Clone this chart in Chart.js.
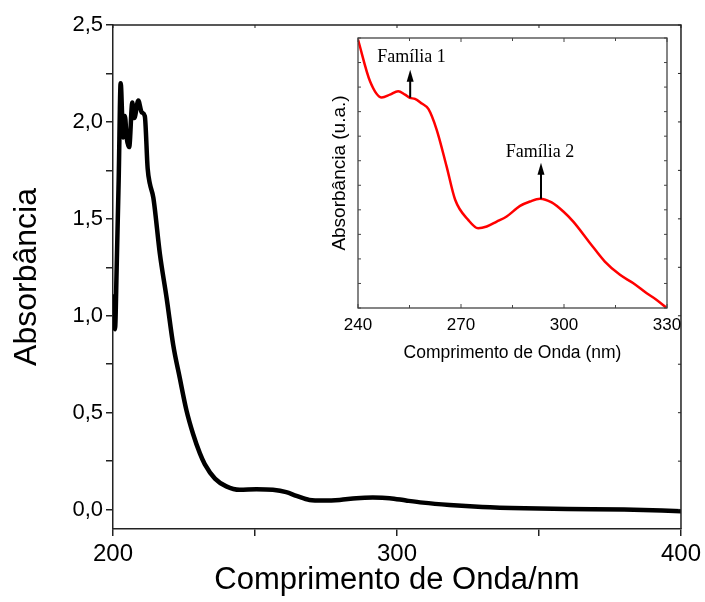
<!DOCTYPE html>
<html lang="pt-BR">
<head>
<meta charset="UTF-8">
<title>Absorbância - Comprimento de Onda</title>
<script src="https://cdn.jsdelivr.net/npm/chart.js@4.4.0/dist/chart.umd.min.js"></script>
<style>
    body { margin: 0; background: #fff; }
    #wrap { position: relative; width: 705px; height: 602px; }
    #principal { position: absolute; left: 0; top: 0; }
    #inset { position: absolute; left: 320px; top: 30px; }
</style>
</head>
<body>
<div id="wrap">
    <canvas id="principal" width="705" height="602"></canvas>
    <canvas id="inset" width="370" height="345"></canvas>
</div>
<script>
// espectro completo (nm, absorbância)
const comprimentoOnda = [200.3, 200.7, 201.3, 202.0, 202.7, 203.6, 204.2, 204.8, 205.7, 206.8, 207.5, 208.9,
    210.1, 211.2, 212.2, 213.0, 214.2, 216.5, 218.9, 221.2, 223.5, 225.9, 228.2, 230.6, 232.3, 235.9, 239.9,
    244.6, 250.5, 256.3, 261.0, 264.6, 269.2, 273.9, 279.8, 285.7, 291.5, 297.4, 303.2, 309.1, 318.5, 330,
    345, 360, 380, 400];
const absorbancia = [1.10, 0.93, 1.25, 1.70, 2.20, 1.92, 2.03, 1.92, 1.87, 2.10, 2.02, 2.11,
    2.05, 2.03, 1.76, 1.68, 1.61, 1.32, 1.09, 0.85, 0.68, 0.51, 0.39, 0.29, 0.235, 0.16, 0.12,
    0.102, 0.105, 0.102, 0.090, 0.071, 0.050, 0.047, 0.050, 0.059, 0.062, 0.059, 0.047, 0.036, 0.024, 0.014,
    0.007, 0.003, 0.0, -0.008];

// detalhe 240-330 nm (u.a.)
const insetOnda = [240.0, 243.5, 246.9, 249.3, 251.7, 253.7, 255.1, 256.6, 258.6, 260.5, 262.9, 265.8,
    268.3, 272.1, 275.0, 277.5, 280.4, 283.3, 287.2, 290.1, 293.0, 296.4, 299.8, 302.7, 307.6, 311.9,
    316.3, 320.2, 324.1, 327.0, 329.9];
const insetAbs = [10.94, 9.24, 8.58, 8.69, 8.83, 8.69, 8.56, 8.52, 8.33, 8.11, 7.27, 5.77,
    4.41, 3.59, 3.25, 3.32, 3.52, 3.73, 4.16, 4.34, 4.45, 4.30, 3.93, 3.52, 2.64, 1.89,
    1.35, 1.01, 0.60, 0.33, 0.0];

// marcações das famílias no inset
const familias = ['Família 1', 'Família 2'];
const familiaOnda = [255.2, 293.3];
const familiaTextoOnda = [255.6, 293.0];
const setaBase = [8.57, 4.45];
const setaTopo = [9.71, 5.92];
const textoAltura = [10.2, 6.33];

const SANS = "'Liberation Sans', Arial, sans-serif";
const SERIF = "'Liberation Serif', 'Times New Roman', serif";

function rotuloVirgula(v) {
    const r = Math.round(v * 100) / 100;
    return Math.abs(r * 2 - Math.round(r * 2)) < 1e-6 ? Math.abs(r).toFixed(1).replace('.', ',') : '';
}

// moldura superior/direita com ticks internos
const molduraPrincipal = {
    id: 'molduraPrincipal',
    afterDraw(chart) {
        const { ctx, chartArea: a, scales: { x, y } } = chart;
        ctx.save();
        ctx.strokeStyle = '#222';
        ctx.lineWidth = 1.5;
        ctx.beginPath();
        ctx.moveTo(a.left - 0.75, a.top);
        ctx.lineTo(a.right, a.top);
        ctx.lineTo(a.right, a.bottom);
        ctx.stroke();
        ctx.lineWidth = 1;
        x.ticks.forEach(t => {
            const px = x.getPixelForValue(t.value);
            ctx.beginPath(); ctx.moveTo(px, a.top); ctx.lineTo(px, a.top + 3); ctx.stroke();
        });
        y.ticks.forEach(t => {
            const py = y.getPixelForValue(t.value);
            ctx.beginPath(); ctx.moveTo(a.right, py); ctx.lineTo(a.right - 3, py); ctx.stroke();
        });
        ctx.restore();
    }
};

const molduraInset = {
    id: 'molduraInset',
    afterDatasetsDraw(chart) {
        const { ctx, chartArea: a, scales: { x, y } } = chart;
        ctx.save();
        ctx.strokeStyle = '#444';
        ctx.lineWidth = 1.3;
        ctx.strokeRect(a.left, a.top, a.right - a.left, a.bottom - a.top);
        ctx.lineWidth = 1;
        x.ticks.forEach(t => {
            const px = x.getPixelForValue(t.value);
            const len = t.value % 30 === 0 ? 4 : 3;
            ctx.beginPath(); ctx.moveTo(px, a.bottom); ctx.lineTo(px, a.bottom - len); ctx.stroke();
            ctx.beginPath(); ctx.moveTo(px, a.top); ctx.lineTo(px, a.top + len); ctx.stroke();
        });
        y.ticks.forEach(t => {
            const py = y.getPixelForValue(t.value);
            ctx.beginPath(); ctx.moveTo(a.left, py); ctx.lineTo(a.left + 3, py); ctx.stroke();
            ctx.beginPath(); ctx.moveTo(a.right, py); ctx.lineTo(a.right - 3, py); ctx.stroke();
        });

        // setas e rótulos
        ctx.strokeStyle = '#000';
        ctx.fillStyle = '#000';
        ctx.lineWidth = 2;
        ctx.font = '18px ' + SERIF;
        ctx.textAlign = 'center';
        ctx.textBaseline = 'middle';
        familias.forEach((nome, i) => {
            const px = x.getPixelForValue(familiaOnda[i]);
            const yb = y.getPixelForValue(setaBase[i]);
            const yt = y.getPixelForValue(setaTopo[i]);
            ctx.beginPath(); ctx.moveTo(px, yb); ctx.lineTo(px, yt + 8); ctx.stroke();
            ctx.beginPath();
            ctx.moveTo(px, yt);
            ctx.lineTo(px - 3.5, yt + 12);
            ctx.lineTo(px + 3.5, yt + 12);
            ctx.closePath();
            ctx.fill();
            ctx.fillText(nome, x.getPixelForValue(familiaTextoOnda[i]), y.getPixelForValue(textoAltura[i]));
        });
        ctx.restore();
    }
};

new Chart(document.getElementById('principal'), {
    type: 'line',
    data: {
        datasets: [{
            data: comprimentoOnda.map((c, i) => ({ x: c, y: absorbancia[i] })),
            borderColor: '#000',
            borderWidth: 4.5,
            borderJoinStyle: 'round',
            borderCapStyle: 'round',
            cubicInterpolationMode: 'monotone',
            pointRadius: 0,
            fill: false
        }]
    },
    options: {
        responsive: false,
        animation: false,
        devicePixelRatio: 1,
        layout: { padding: { top: 25, right: 23, left: 0, bottom: 0 } },
        plugins: { legend: { display: false }, tooltip: { enabled: false } },
        scales: {
            x: {
                type: 'linear',
                min: 200,
                max: 400,
                ticks: {
                    stepSize: 50,
                    autoSkip: false,
                    maxRotation: 0,
                    color: '#000',
                    padding: 4,
                    font: { family: SANS, size: 24 },
                    callback: v => (v % 100 === 0 ? v : '')
                },
                grid: { drawOnChartArea: false, tickLength: 7, color: '#222', lineWidth: 1.5 },
                border: { color: '#222', width: 1.5 },
                title: {
                    display: true,
                    text: 'Comprimento de Onda/nm',
                    color: '#000',
                    font: { family: SANS, size: 31 },
                    padding: { top: 0, bottom: 3 }
                },
                afterFit: s => { s.height = 73; }
            },
            y: {
                min: -0.1,
                max: 2.5,
                afterBuildTicks: s => {
                    s.ticks = s.ticks.filter(t => Math.abs(t.value * 4 - Math.round(t.value * 4)) < 1e-6);
                },
                ticks: {
                    stepSize: 0.25,
                    includeBounds: false,
                    autoSkip: false,
                    color: '#000',
                    padding: 3,
                    font: { family: SANS, size: 22 },
                    callback: rotuloVirgula
                },
                grid: { drawOnChartArea: false, tickLength: 7, color: '#222', lineWidth: 1.5 },
                border: { color: '#222', width: 1.5 },
                title: {
                    display: true,
                    text: 'Absorbância',
                    color: '#000',
                    font: { family: SANS, size: 32 },
                    padding: { top: 8, bottom: 0 }
                },
                afterFit: s => { s.width = 113; }
            }
        }
    },
    plugins: [molduraPrincipal]
});

new Chart(document.getElementById('inset'), {
    type: 'line',
    data: {
        datasets: [{
            data: insetOnda.map((c, i) => ({ x: c, y: insetAbs[i] })),
            borderColor: '#ff0000',
            borderWidth: 2.5,
            cubicInterpolationMode: 'monotone',
            pointRadius: 0,
            fill: false
        }]
    },
    options: {
        responsive: false,
        animation: false,
        devicePixelRatio: 1,
        layout: { padding: { top: 8, right: 23, left: 0, bottom: 0 } },
        plugins: { legend: { display: false }, tooltip: { enabled: false } },
        scales: {
            x: {
                type: 'linear',
                min: 240,
                max: 330,
                ticks: {
                    stepSize: 15,
                    autoSkip: false,
                    maxRotation: 0,
                    color: '#000',
                    padding: 7,
                    font: { family: SANS, size: 17 },
                    callback: v => (v % 30 === 0 ? v : '')
                },
                grid: { display: true, drawOnChartArea: false, drawTicks: false },
                border: { display: false },
                title: {
                    display: true,
                    text: 'Comprimento de Onda (nm)',
                    color: '#000',
                    font: { family: SANS, size: 17.5 },
                    padding: { top: 0, bottom: 11 }
                },
                afterFit: s => { s.height = 67; }
            },
            y: {
                min: 0,
                max: 11,
                ticks: { stepSize: 1, display: false },
                grid: { display: true, drawOnChartArea: false, drawTicks: false },
                border: { display: false },
                title: {
                    display: true,
                    text: 'Absorbância (u.a.)',
                    color: '#000',
                    font: { family: SANS, size: 19 },
                    padding: { top: 8, bottom: 0 }
                },
                afterFit: s => { s.width = 38; }
            }
        }
    },
    plugins: [molduraInset]
});
</script>
</body>
</html>
